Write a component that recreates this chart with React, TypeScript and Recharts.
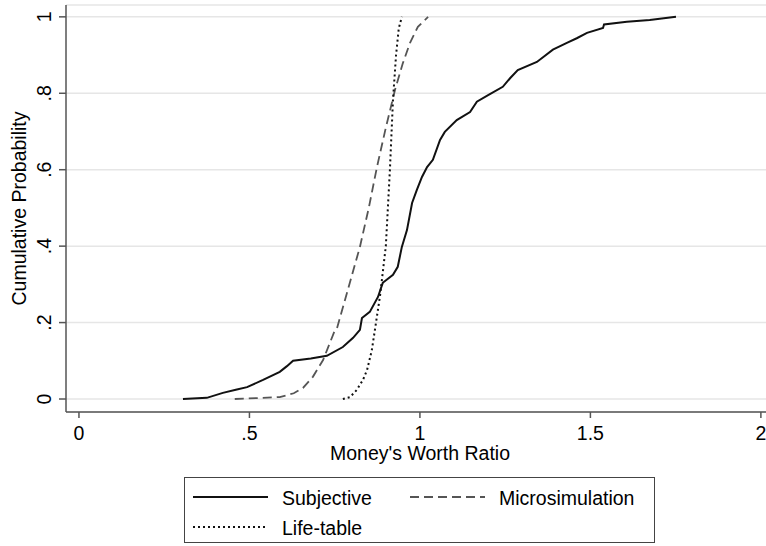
import { LineChart, Line, XAxis, YAxis, CartesianGrid, Legend } from 'recharts'

// Money's worth ratio CDFs
const subjectiveX = [
  0.305, 0.375, 0.422, 0.46, 0.493, 0.54, 0.589, 0.61, 0.628, 0.68, 0.727, 0.774, 0.804, 0.824, 0.83, 0.853,
  0.877, 0.891, 0.921, 0.935, 0.947, 0.962, 0.977, 0.991, 1.006, 1.021, 1.038, 1.059, 1.073, 1.108, 1.147,
  1.167, 1.2, 1.243, 1.265, 1.287, 1.343, 1.39, 1.431, 1.46, 1.49, 1.537, 1.54, 1.607, 1.674, 1.751,
]
const subjectiveY = [
  0, 0.003, 0.016, 0.024, 0.031, 0.05, 0.071, 0.086, 0.1, 0.106, 0.113, 0.136, 0.16, 0.181, 0.212, 0.228,
  0.267, 0.304, 0.325, 0.346, 0.398, 0.442, 0.513, 0.547, 0.581, 0.607, 0.626, 0.678, 0.699, 0.73, 0.751,
  0.778, 0.795, 0.817, 0.84, 0.861, 0.882, 0.914, 0.932, 0.944, 0.958, 0.971, 0.98, 0.987, 0.992, 1.0,
]

const microX = [
  0.457, 0.589, 0.63, 0.657, 0.686, 0.716, 0.736, 0.751, 0.757, 0.79, 0.824, 0.85, 0.874, 0.9, 0.927, 0.95,
  0.971, 0.994, 1.024,
]
const microY = [
  0, 0.005, 0.015, 0.029, 0.058, 0.102, 0.147, 0.181, 0.186, 0.29, 0.398, 0.5, 0.607, 0.71, 0.809, 0.879,
  0.932, 0.974, 1.0,
]

const lifeX = [0.774, 0.795, 0.815, 0.833, 0.845, 0.859, 0.868, 0.883, 0.9, 0.912, 0.921, 0.93, 0.938, 0.947]
const lifeY = [0, 0.005, 0.024, 0.05, 0.076, 0.128, 0.181, 0.27, 0.4, 0.6, 0.783, 0.9, 0.97, 1.0]

const xTicks = [0, 0.5, 1, 1.5, 2]
const yTicks = [0, 0.2, 0.4, 0.6, 0.8, 1]

const toPoints = (xs: number[], ys: number[]) => xs.map((x, i) => ({ x, y: ys[i] }))

const subjective = toPoints(subjectiveX, subjectiveY)
const micro = toPoints(microX, microY)
const life = toPoints(lifeX, lifeY)

const FONT = '"Liberation Sans", Arial, Helvetica, sans-serif'
const FS = 19.5

// Stata style: drop the leading zero
const fmt = (v: number) => (v === 0 ? '0' : v < 1 ? String(v).replace(/^0/, '') : String(v))

const YTick = ({ y, payload }: any) => {
  const x = 51
  return (
    <text x={x} y={y} transform={`rotate(-90 ${x} ${y})`} textAnchor="middle" fontSize={FS} fill="#000" fontFamily={FONT}>
      {fmt(payload.value)}
    </text>
  )
}

const LegendBox = () => (
  <div
    style={{
      width: 471,
      height: 66,
      border: '1px solid #444',
      boxSizing: 'border-box',
      background: '#fff',
    }}
  >
    <svg width={469} height={64} style={{ display: 'block' }}>
      <g fontFamily={FONT} fontSize={FS} fill="#000">
        <line x1={8} x2={83} y1={19} y2={19} stroke="#111" strokeWidth={2} />
        <text x={97} y={20} dominantBaseline="central">Subjective</text>
        <line x1={225} x2={300} y1={19} y2={19} stroke="#555" strokeWidth={1.8} strokeDasharray="9 5" />
        <text x={314} y={20} dominantBaseline="central">Microsimulation</text>
        <line x1={8} x2={83} y1={49} y2={49} stroke="#111" strokeWidth={2} strokeDasharray="2 3" />
        <text x={97} y={50} dominantBaseline="central">Life-table</text>
      </g>
    </svg>
  </div>
)

export default function App() {
  return (
    <div style={{ position: 'absolute', left: 0, top: 0, background: '#fff' }}>
      <LineChart width={766} height={546} margin={{ top: 5, right: 0, left: 0, bottom: 0 }}>
        <CartesianGrid horizontal vertical={false} stroke="#e6e6e6" strokeWidth={1.5} />
        <XAxis
          type="number"
          dataKey="x"
          domain={[-0.038, 2.015]}
          ticks={xTicks}
          tickFormatter={fmt}
          allowDataOverflow
          height={134}
          stroke="#555"
          strokeWidth={1.5}
          tickSize={6}
          tickMargin={8}
          tick={{ fill: '#000', fontSize: FS, fontFamily: FONT }}
          label={{
            content: ({ viewBox }: any) => (
              <text
                x={viewBox.x + viewBox.width / 2 + 4}
                y={460}
                textAnchor="middle"
                fontSize={FS}
                fontFamily={FONT}
                fill="#000"
              >
                Money's Worth Ratio
              </text>
            ),
          }}
        />
        <YAxis
          type="number"
          dataKey="y"
          domain={[-0.034, 1.031]}
          ticks={yTicks}
          allowDataOverflow
          width={66}
          stroke="#555"
          strokeWidth={1.5}
          tickSize={7}
          tick={<YTick />}
          label={{
            content: ({ viewBox }: any) => {
              const cy = viewBox.y + viewBox.height / 2
              return (
                <text
                  x={19}
                  y={cy}
                  transform={`rotate(-90 19 ${cy})`}
                  textAnchor="middle"
                  dominantBaseline="central"
                  fontSize={FS}
                  fontFamily={FONT}
                  fill="#000"
                >
                  Cumulative Probability
                </text>
              )
            },
          }}
        />
        <Line data={subjective} dataKey="y" type="linear" stroke="#111" strokeWidth={2} dot={false} isAnimationActive={false} />
        <Line data={micro} dataKey="y" type="linear" stroke="#555" strokeWidth={1.8} strokeDasharray="9 5" dot={false} isAnimationActive={false} />
        <Line data={life} dataKey="y" type="linear" stroke="#111" strokeWidth={2} strokeDasharray="2 3" dot={false} isAnimationActive={false} />
        <Legend
          layout="horizontal"
          verticalAlign="middle"
          align="center"
          content={<LegendBox />}
          wrapperStyle={{ left: 184, top: 477, width: 471, height: 66 }}
        />
      </LineChart>
    </div>
  )
}
